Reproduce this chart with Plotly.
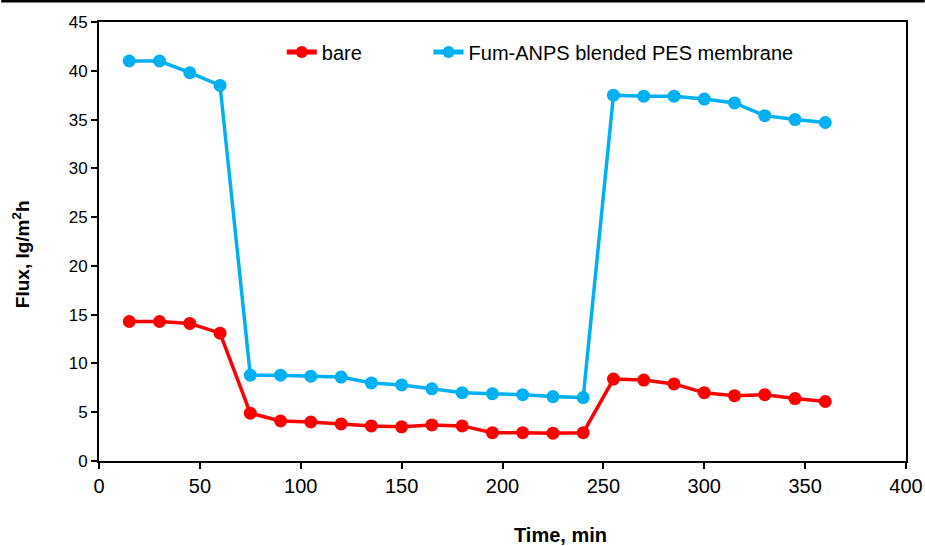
import plotly.graph_objects as go

time_min = [15, 30, 45, 60, 75, 90, 105, 120, 135, 150, 165, 180,
            195, 210, 225, 240, 255, 270, 285, 300, 315, 330, 345, 360]
bare = [14.3, 14.3, 14.1, 13.1, 4.9, 4.1, 4.0, 3.8, 3.6, 3.5, 3.7, 3.6,
        2.9, 2.9, 2.85, 2.9, 8.4, 8.3, 7.9, 7.0, 6.7, 6.8, 6.4, 6.1]
fum_anps = [41.0, 41.0, 39.8, 38.5, 8.8, 8.8, 8.7, 8.6, 8.0, 7.8, 7.4, 7.0,
            6.9, 6.8, 6.6, 6.5, 37.5, 37.4, 37.4, 37.1, 36.7, 35.4, 35.0, 34.7]

x_ticks = [0, 50, 100, 150, 200, 250, 300, 350, 400]
y_ticks = [0, 5, 10, 15, 20, 25, 30, 35, 40, 45]

FONT = "Liberation Sans, Arial, sans-serif"
W, H = 935, 546
K = W / 925.0
L, R, T, B = round(98 * K), round(19 * K), 22, 85
PW, PH = W - L - R, H - T - B

fig = go.Figure()
fig.add_trace(go.Scatter(
    x=time_min, y=bare, mode="lines+markers", name="bare",
    line=dict(color="#FF0000", width=3.5),
    marker=dict(color="#FF0000", size=13), legend="legend"))
fig.add_trace(go.Scatter(
    x=time_min, y=fum_anps, mode="lines+markers",
    name="Fum-ANPS blended PES membrane",
    line=dict(color="#00B0F0", width=3.5),
    marker=dict(color="#00B0F0", size=13), legend="legend2"))

leg_common = dict(orientation="h", yanchor="middle", xanchor="left",
                  font=dict(size=20, family=FONT, color="black"),
                  bgcolor="rgba(0,0,0,0)", itemsizing="constant")

fig.update_layout(
    width=W, height=H, autosize=False,
    margin=dict(l=L, r=R, t=T, b=B, pad=0),
    paper_bgcolor="white", plot_bgcolor="white",
    font=dict(family=FONT, color="black"),
    showlegend=True,
    legend=dict(x=(281 * K - L) / PW, y=(H - B - 52) / PH, **leg_common),
    legend2=dict(x=(428 * K - L) / PW, y=(H - B - 52) / PH, **leg_common),
    xaxis=dict(range=[0, 400], tickvals=x_ticks, ticks="outside", ticklen=6,
               tickwidth=2, tickcolor="black", showline=True, linecolor="black",
               linewidth=2, mirror=True, showgrid=False, zeroline=False,
               tickfont=dict(size=20, family=FONT, color="black")),
    yaxis=dict(range=[0, 45], tickvals=y_ticks, ticks="outside", ticklen=6,
               tickwidth=2, tickcolor="black", showline=True, linecolor="black",
               linewidth=2, mirror=True, showgrid=False, zeroline=False,
               tickfont=dict(size=17, family=FONT, color="black")),
    annotations=[
        dict(text="<b>Time, min</b>", xref="paper", yref="paper",
             x=(560 * K - L) / PW, y=(H - B - 535) / PH, xanchor="center",
             yanchor="middle", showarrow=False,
             font=dict(size=20, family=FONT, color="black")),
        dict(text="<b>Flux, lg/m<sup>2</sup>h</b>", xref="paper", yref="paper",
             x=(20 * K - L) / PW, y=(H - B - 254) / PH, xanchor="center",
             yanchor="middle", showarrow=False, textangle=-90,
             font=dict(size=19, family=FONT, color="black")),
    ],
    shapes=[
        dict(type="line", xref="paper", yref="paper",
             x0=-L / PW, x1=(W - L) / PW,
             y0=(H - B - 1) / PH, y1=(H - B - 1) / PH,
             line=dict(color="black", width=3)),
    ],
)

fig.write_html("out.html")
